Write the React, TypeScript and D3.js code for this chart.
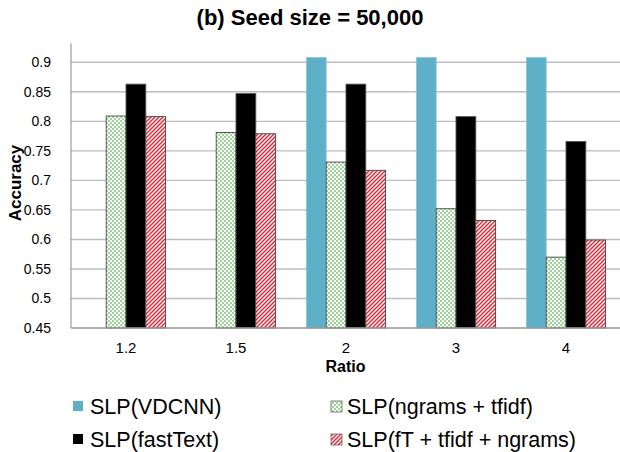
import React from 'react'
import * as d3 from 'd3'

const categories = ['1.2', '1.5', '2', '3', '4']
const seriesNames = ['SLP(VDCNN)', 'SLP(ngrams + tfidf)', 'SLP(fastText)', 'SLP(fT + tfidf + ngrams)']
const vdcnn = [null, null, 0.908, 0.908, 0.908]
const ngramsTfidf = [0.809, 0.781, 0.731, 0.652, 0.570]
const fastText = [0.863, 0.847, 0.863, 0.808, 0.766]
const fTTfidfNgrams = [0.808, 0.779, 0.717, 0.632, 0.599]
const yTicks = [0.45, 0.5, 0.55, 0.6, 0.65, 0.7, 0.75, 0.8, 0.85, 0.9]

const FONT = 'Liberation Sans, Arial, sans-serif'

const fills = ['#5eb0c9', 'url(#checker)', '#000000', 'url(#stripes)']
const strokes = ['#8cc6d8', '#444', '#555', '#444']

export default function App() {
    const width = 620, height = 452
    const margin = { left: 71, right: -1, top: 62.3, bottom: 124 }

    const x = d3.scaleBand()
        .domain(categories)
        .range([margin.left, width - margin.right])
        .paddingInner(0.28)
        .paddingOuter(0.14)

    const sx = d3.scaleBand()
        .domain(d3.range(4).map(String))
        .range([0, x.bandwidth()])

    const y = d3.scaleLinear()
        .domain([0.45, 0.9])
        .range([height - margin.bottom, margin.top])

    const allSeries = [vdcnn, ngramsTfidf, fastText, fTTfidfNgrams]
    const axisTop = y(0.932)

    // legend layout: [series index, column, row]
    const legendItems = [[0, 0, 0], [1, 1, 0], [2, 0, 1], [3, 1, 1]]
    const legendX = [73, 332]
    const legendY = [406, 439]

    return (
        <svg width={width} height={height} style={{ position: 'absolute', left: 0, top: 0, background: '#fff' }}
            fontFamily={FONT}>
            <defs>
                <pattern id="checker" width={4} height={4} patternUnits="userSpaceOnUse">
                    <rect width={4} height={4} fill="#ffffff" />
                    <rect width={2} height={2} fill="#9dd396" />
                    <rect x={2} y={2} width={2} height={2} fill="#9dd396" />
                </pattern>
                <pattern id="stripes" width={4} height={4} patternUnits="userSpaceOnUse">
                    <rect width={4} height={4} fill="#ffffff" />
                    <path d="M-1,1 l2,-2 M0,4 l4,-4 M3,5 l2,-2" stroke="#e0293a" strokeWidth={1.5} />
                </pattern>
            </defs>

            <text x={310} y={25} textAnchor="middle" fontWeight="bold" fontSize={22}>(b) Seed size = 50,000</text>

            {yTicks.slice(1).map(t => (
                <line key={t} x1={margin.left} x2={width} y1={y(t)} y2={y(t)} stroke="#bdbdbd" strokeWidth={1.4} />
            ))}

            {allSeries.map((vals, si) => (
                <g key={si}>
                    {vals.map((v, ci) => v == null ? null : (
                        <rect key={ci}
                            x={x(categories[ci]) + sx(String(si))}
                            y={y(v)}
                            width={sx.bandwidth()}
                            height={y(0.45) - y(v)}
                            fill={fills[si]}
                            stroke={strokes[si]}
                            strokeWidth={0.9} />
                    ))}
                </g>
            ))}

            <line x1={margin.left} x2={margin.left} y1={axisTop} y2={y(0.45)} stroke="#8a8a8a" strokeWidth={1} />
            <line x1={margin.left} x2={width} y1={y(0.45)} y2={y(0.45)} stroke="#999" strokeWidth={1.4} />

            {yTicks.map(t => (
                <text key={t} x={51} y={y(t)} dy="0.35em" textAnchor="end" fontSize={14}>{String(t)}</text>
            ))}
            <text transform={`translate(21,183) rotate(-90)`} textAnchor="middle" fontWeight="bold" fontSize={17}>Accuracy</text>

            {categories.map(c => (
                <text key={c} x={x(c) + x.bandwidth() / 2} y={353} textAnchor="middle" fontSize={15}>{c}</text>
            ))}
            <text x={(margin.left + width) / 2} y={372} textAnchor="middle" fontWeight="bold" fontSize={16}>Ratio</text>

            {legendItems.map(([si, col, row]) => (
                <g key={si} transform={`translate(${legendX[col]},${legendY[row]})`}>
                    <rect x={col === 0 ? 0 : -1} y={-5} width={col === 0 ? 10 : 11} height={col === 0 ? 10 : 11}
                        fill={fills[si]} stroke={col === 0 ? 'none' : '#666'} strokeWidth={0.8} />
                    <text x={col === 0 ? 17 : 15} y={0} dy="0.35em" fontSize={21.5}>{seriesNames[si]}</text>
                </g>
            ))}
        </svg>
    )
}
